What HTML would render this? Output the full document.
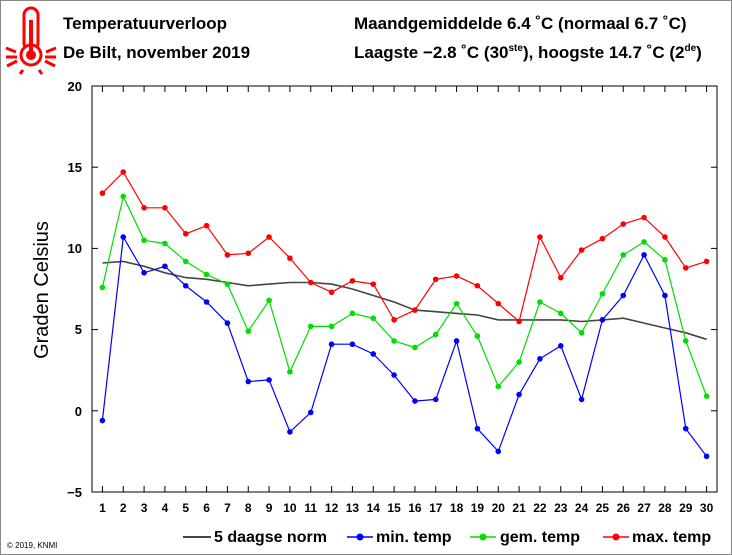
<!DOCTYPE html>
<html><head><meta charset="utf-8"><style>
body{margin:0;background:#fff}
svg{display:block;font-family:"Liberation Sans",Arial,sans-serif}
</style></head><body>
<svg id="s" width="732" height="555" viewBox="0 0 732 555">
<rect x="0.5" y="0.5" width="731" height="554" fill="#fff" stroke="#888"/>
<!-- thermometer icon -->
<g stroke="#f00" fill="none" stroke-width="3">
<rect x="24" y="8" width="14" height="42" rx="7" fill="#fff"/>
<circle cx="31" cy="55" r="10" fill="#fff"/>
<line x1="31" y1="20" x2="31" y2="55" stroke-width="4"/>
<line x1="6" y1="48" x2="16" y2="52"/><line x1="6" y1="57" x2="17" y2="57"/><line x1="7" y1="66" x2="17" y2="61"/>
<line x1="56" y1="48" x2="46" y2="52"/><line x1="56" y1="57" x2="45" y2="57"/><line x1="55" y1="66" x2="45" y2="61"/>
<line x1="23" y1="70" x2="20" y2="74"/><line x1="39" y1="70" x2="42" y2="74"/>
</g>
<circle cx="31" cy="55" r="5" fill="#f00"/>
<g font-size="17" fill="#000" font-weight="bold" style="font-weight:600">
<text x="63" y="29">Temperatuurverloop</text>
<text x="63" y="58">De Bilt, november 2019</text>
<text x="354" y="29">Maandgemiddelde 6.4 ˚C (normaal 6.7 ˚C)</text>
<text x="354" y="58">Laagste −2.8 ˚C (30<tspan font-size="10" dy="-7">ste</tspan><tspan dy="7">), hoogste 14.7 ˚C (2</tspan><tspan font-size="10" dy="-7">de</tspan><tspan dy="7">)</tspan></text>
</g>
<rect x="92" y="86" width="625" height="406" fill="none" stroke="#000" stroke-width="1"/>
<g id="ticks" stroke="#000"></g>
<g font-size="13" font-weight="bold" text-anchor="end">
<text x="82" y="91">20</text><text x="82" y="172">15</text><text x="82" y="253">10</text><text x="82" y="334">5</text><text x="82" y="416">0</text><text x="82" y="497">−5</text>
</g>
<g id="xl" font-size="12" font-weight="bold" text-anchor="middle"></g>
<text transform="translate(48,290) rotate(-90)" font-size="20" text-anchor="middle">Graden Celsius</text>
<g id="d"></g>
<!-- legend -->
<g font-size="16" font-weight="bold">
<line x1="183" y1="537" x2="211" y2="537" stroke="#444" stroke-width="2"/><text x="214" y="542">5 daagse norm</text>
<line x1="347" y1="537" x2="373" y2="537" stroke="#00f" stroke-width="1.5"/><circle cx="360" cy="537" r="3.5" fill="#00f"/><text x="376" y="542">min. temp</text>
<line x1="470" y1="537" x2="496" y2="537" stroke="#0d0" stroke-width="1.5"/><circle cx="483" cy="537" r="3.5" fill="#0d0"/><text x="500" y="542">gem. temp</text>
<line x1="603" y1="537" x2="629" y2="537" stroke="#f00" stroke-width="1.5"/><circle cx="616" cy="537" r="3.5" fill="#f00"/><text x="632" y="542">max. temp</text>
</g>
<text x="7" y="548" font-size="8">© 2019, KNMI</text>
</svg>
<script>
var NS="http://www.w3.org/2000/svg";
function X(i){return 92+(i+0.5)*625/30}
function Y(v){return 410.8-16.24*v}
var mx=[13.4,14.7,12.5,12.5,10.9,11.4,9.6,9.7,10.7,9.4,7.9,7.3,8.0,7.8,5.6,6.2,8.1,8.3,7.7,6.6,5.5,10.7,8.2,9.9,10.6,11.5,11.9,10.7,8.8,9.2];
var gm=[7.6,13.2,10.5,10.3,9.2,8.4,7.8,4.9,6.8,2.4,5.2,5.2,6.0,5.7,4.3,3.9,4.7,6.6,4.6,1.5,3.0,6.7,6.0,4.8,7.2,9.6,10.4,9.3,4.3,0.9];
var mn=[-0.6,10.7,8.5,8.9,7.7,6.7,5.4,1.8,1.9,-1.3,-0.1,4.1,4.1,3.5,2.2,0.6,0.7,4.3,-1.1,-2.5,1.0,3.2,4.0,0.7,5.6,7.1,9.6,7.1,-1.1,-2.8];
var nm=[9.1,9.2,8.9,8.5,8.2,8.1,7.9,7.7,7.8,7.9,7.9,7.8,7.5,7.1,6.7,6.2,6.1,6.0,5.9,5.6,5.6,5.6,5.6,5.5,5.6,5.7,5.4,5.1,4.8,4.4];
var d=document.getElementById("d"),t=document.getElementById("ticks"),xl=document.getElementById("xl");
function el(p,n,a){var e=document.createElementNS(NS,n);for(var k in a)e.setAttribute(k,a[k]);p.appendChild(e);return e}
for(var i=0;i<30;i++){var x=X(i);
el(t,"line",{x1:x,y1:86,x2:x,y2:92});el(t,"line",{x1:x,y1:492,x2:x,y2:486});
el(xl,"text",{x:x,y:512}).textContent=i+1;}
for(var v=-5;v<=20;v+=5){el(t,"line",{x1:92,y1:Y(v),x2:98,y2:Y(v)});el(t,"line",{x1:717,y1:Y(v),x2:711,y2:Y(v)});}
function line(a,c,w,dots){var p=a.map(function(v,i){return X(i).toFixed(1)+","+Y(v).toFixed(1)}).join(" ");
el(d,"polyline",{points:p,fill:"none",stroke:c,"stroke-width":w});
if(dots)a.forEach(function(v,i){el(d,"circle",{cx:X(i),cy:Y(v),r:2.8,fill:c})});}
line(nm,"#444",1.6,false);line(mn,"#00f",1.2,true);line(gm,"#0d0",1.2,true);line(mx,"#f00",1.2,true);
</script>
</body></html>
